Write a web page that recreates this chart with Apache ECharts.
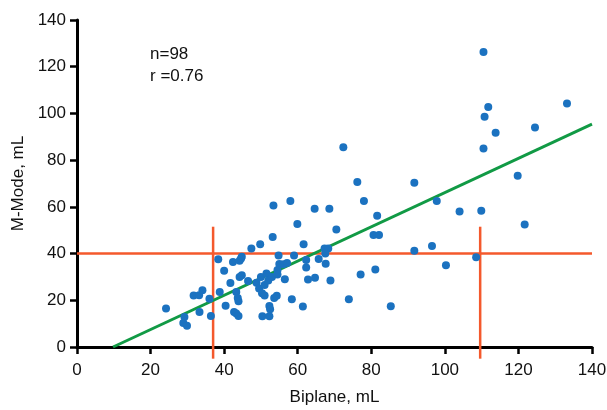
<!DOCTYPE html>
<html>
<head>
<meta charset="utf-8">
<script src="https://cdn.jsdelivr.net/npm/echarts@6/dist/echarts.min.js"></script>
<style>html,body{margin:0;padding:0;background:#fff}#c{width:607px;height:410px}</style>
</head>
<body>
<div id="c"></div>
<script>
// Scatter points: [Biplane mL, M-Mode mL]
const biplane = [110.5,111.8,110.8,113.8,133.2,124.5,110.5,119.8,97.8,104.0,109.9,121.7,96.5,108.5,100.3,
  72.4,76.2,91.7,78.0,81.6,70.5,80.6,82.1,91.7,77.1,81.1,73.9,85.3,64.6,68.6,61.6,67.3,68.3,67.5,62.3,62.3,65.7,67.6,
  62.8,64.7,68.9,61.4,53.4,58.0,59.9,53.2,49.8,47.4,54.8,59.0,58.4,53.6,54.3,52.3,52.5,50.4,52.3,
  24.2,29.2,28.9,29.9,31.7,33.2,34.1,33.3,36.0,36.4,38.4,40.0,38.8,40.4,41.7,42.4,43.3,43.7,43.9,42.7,43.3,43.9,
  44.2,44.6,44.8,44.2,44.8,46.5,
  48.8,49.5,50.0,50.3,51.0,51.5,51.0,52.0,53.0,54.5,55.0,56.5,54.5,56.1,57.1];
const mmode = [126.3,102.7,98.6,91.7,104.3,94.0,85.0,73.3,62.5,58.0,58.3,52.5,43.2,38.4,35.0,
  85.5,70.6,70.3,62.5,56.2,50.3,47.9,47.9,41.2,31.0,33.2,20.4,17.4,59.2,59.2,44.0,42.2,42.2,40.0,37.2,34.0,37.7,35.6,
  28.9,29.6,28.5,17.3,60.6,62.5,52.7,47.1,44.0,42.2,39.2,39.2,20.4,21.0,21.9,17.6,16.2,13.2,13.2,
  16.5,12.8,10.3,9.1,22.0,22.2,24.3,15.0,20.7,13.3,37.6,32.6,23.6,17.7,27.4,36.4,23.6,21.0,19.6,15.0,14.3,13.3,
  36.9,37.9,38.6,30.0,30.7,28.3,
  27.5,25.0,30.0,23.0,26.5,31.5,22.0,28.5,30.0,33.0,35.5,29.0,31.0,35.4,36.0];
// Regression line endpoints
const fitX = [9.8, 140];
const fitY = [0, 95.4];
// Reference (cut-off) lines
const hRefX = [0, 140], hRefY = [40, 40];
const v1X = [37, 37], v2X = [109.6, 109.6], vRefY = [-5, 51.5];
const xTicks = [0, 20, 40, 60, 80, 100, 120, 140];
const yTicks = [0, 20, 40, 60, 80, 100, 120, 140];
const stats = ['n=98', 'r =0.76'];

const zip = (a, b) => a.map((v, i) => [v, b[i]]);
const FONT = 'Liberation Sans';
const chart = echarts.init(document.getElementById('c'), null, {renderer: 'canvas'});
const redStyle = {color: '#f4592c', width: 2.5};
chart.setOption({
  animation: false,
  grid: {left: 77, right: 15, top: 20, bottom: 63, containLabel: false, outerBoundsMode: 'none'},
  xAxis: {
    type: 'value', min: xTicks[0], max: xTicks[xTicks.length - 1], interval: 20,
    name: 'Biplane, mL', nameLocation: 'middle', nameGap: 42,
    nameTextStyle: {fontFamily: FONT, fontSize: 17, color: '#111'},
    axisLine: {onZero: false, lineStyle: {color: '#000', width: 3}},
    axisTick: {show: true, length: 7, lineStyle: {color: '#000', width: 2.5}},
    axisLabel: {fontFamily: FONT, fontSize: 17, color: '#111', margin: 15},
    splitLine: {show: false}
  },
  yAxis: {
    type: 'value', min: yTicks[0], max: yTicks[yTicks.length - 1], interval: 20,
    name: 'M-Mode, mL', nameLocation: 'middle', nameGap: 49,
    nameTextStyle: {fontFamily: FONT, fontSize: 17, color: '#111'},
    axisLine: {show: true, onZero: false, lineStyle: {color: '#000', width: 3}},
    axisTick: {show: true, length: 7, lineStyle: {color: '#000', width: 2.5}},
    axisLabel: {fontFamily: FONT, fontSize: 17, color: '#111', margin: 11},
    splitLine: {show: false}
  },
  graphic: [
    {type: 'text', left: 150, top: 46, style: {text: stats[0], fontFamily: FONT, fontSize: 17, fill: '#111'}},
    {type: 'text', left: 150, top: 68, style: {text: stats[1], fontFamily: FONT, fontSize: 17, fill: '#111'}}
  ],
  series: [
    {type: 'line', data: zip(hRefX, hRefY), symbol: 'none', clip: false, lineStyle: redStyle, z: 2, silent: true},
    {type: 'line', data: zip(v1X, vRefY), symbol: 'none', clip: false, lineStyle: redStyle, z: 2, silent: true},
    {type: 'line', data: zip(v2X, vRefY), symbol: 'none', clip: false, lineStyle: redStyle, z: 2, silent: true},
    {type: 'line', data: zip(fitX, fitY), symbol: 'none', clip: false, lineStyle: {color: '#119a45', width: 3}, z: 3, silent: true},
    {type: 'scatter', data: zip(biplane, mmode), symbolSize: 8, itemStyle: {color: '#1b72c0', opacity: 1}, z: 4}
  ]
});
</script>
</body>
</html>
